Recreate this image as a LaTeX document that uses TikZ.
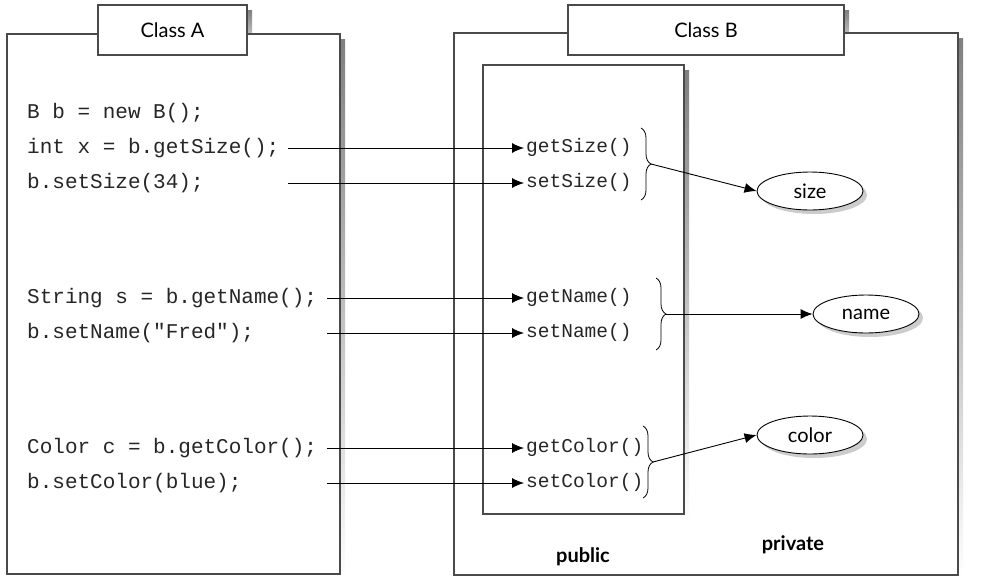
\documentclass[tikz,border=0pt]{standalone}
\usepackage{fontspec}
\setmainfont{Lato}
\newfontfamily\codefont{Liberation Mono}
\usetikzlibrary{arrows.meta,decorations.pathreplacing,shapes.geometric,shadows}
\definecolor{boxline}{HTML}{4A4A4A}
\definecolor{shade}{HTML}{CCCCCC}
\begin{document}
\begin{tikzpicture}[x=1pt,y=-1pt,
  box/.style={draw=boxline, line width=1.1pt, fill=white, inner sep=0pt},
  title/.style={box, font=\fontsize{20pt}{22pt}\selectfont},
  code/.style={anchor=west, inner sep=0pt, font=\codefont\fontsize{21pt}{24pt}\selectfont, text height=14pt, text depth=4pt, text=black!85},
  meth/.style={anchor=west, inner xsep=2pt, inner ysep=0pt, font=\codefont\fontsize{19.5pt}{22pt}\selectfont, text height=13pt, text depth=4pt, text=black!85},
  conn/.style={draw=black, line width=0.9pt, -{Latex[length=12pt,width=10pt]}},
  field/.style={ellipse, draw=black, line width=0.9pt, fill=white, minimum width=106pt, minimum height=38pt, inner sep=0pt, font=\fontsize{20pt}{22pt}\selectfont, drop shadow={shadow xshift=4pt, shadow yshift=-4pt, fill=shade, opacity=1}},
  brc/.style={draw=black, line width=0.8pt, decorate, decoration={brace, amplitude=10pt}},
  lbl/.style={font=\bfseries\fontsize{20pt}{22pt}\selectfont, inner sep=0pt}
]
\useasboundingbox (0,0) rectangle (1003,579);
% Class A
\fill[shade] (103,10) rectangle (252,60);
\fill[shade] (12,39) rectangle (345,579);
\node[box, minimum width=333pt, minimum height=540pt] (A) at (173.5,304) {};
\node[title, minimum width=149pt, minimum height=50pt] (tA) at (172.5,30) {Class A};
% Class B
\fill[shade] (573,10) rectangle (849,60);
\fill[shade] (459,38) rectangle (963,579);
\node[box, minimum width=504pt, minimum height=542pt] (B) at (706,304) {};
\node[title, minimum width=276pt, minimum height=50pt] (tB) at (706,30) {Class B};
% public box
\fill[shade] (488,70) rectangle (689,519);
\node[box, minimum width=201pt, minimum height=449pt] (pub) at (583.5,289.5) {};
% code lines
\node[code] (c1) at (27,113) {B b = new B();};
\node[code] (c2) at (27,148) {int x = b.getSize();};
\node[code] (c3) at (27,183) {b.setSize(34);};
\node[code] (c4) at (27,298) {String s = b.getName();};
\node[code] (c5) at (27,333) {b.setName("Fred");};
\node[code] (c6) at (27,448) {Color c = b.getColor();};
\node[code] (c7) at (27,483) {b.setColor(blue);};
% methods
\node[meth] (m2) at (524,148) {getSize()};
\node[meth] (m3) at (524,183) {setSize()};
\node[meth] (m4) at (524,298) {getName()};
\node[meth] (m5) at (524,333) {setName()};
\node[meth] (m6) at (524,448) {getColor()};
\node[meth] (m7) at (524,483) {setColor()};
% arrow starts
\coordinate (s2) at (288,148);
\coordinate (s3) at (288,183);
\coordinate (s4) at (327,298);
\coordinate (s5) at (327,333);
\coordinate (s6) at (327,448);
\coordinate (s7) at (327,483);
\draw[conn] (s2) -- (m2.west);
\draw[conn] (s3) -- (m3.west);
\draw[conn] (s4) -- (m4.west);
\draw[conn] (s5) -- (m5.west);
\draw[conn] (s6) -- (m6.west);
\draw[conn] (s7) -- (m7.west);
% fields
\node[field] (size) at (810,191) {size};
\node[field] (name) at (866,314) {name};
\node[field] (color) at (810,435) {color};
% braces
\draw[brc] (641,128) -- (641,200);
\coordinate (bS) at (651,164);
\draw[brc] (656,278) -- (656,350);
\coordinate (bN) at (666,314);
\draw[brc] (643,426) -- (643,498);
\coordinate (bC) at (653,462);
\draw[conn] (bS) -- (size.west);
\draw[conn] (bN) -- (name.west);
\draw[conn] (bC) -- (color.west);
% labels
\node[lbl] (lpub) at (583,557) {public};
\node[lbl] (lpriv) at (793,545) {private};
\end{tikzpicture}
\end{document}
